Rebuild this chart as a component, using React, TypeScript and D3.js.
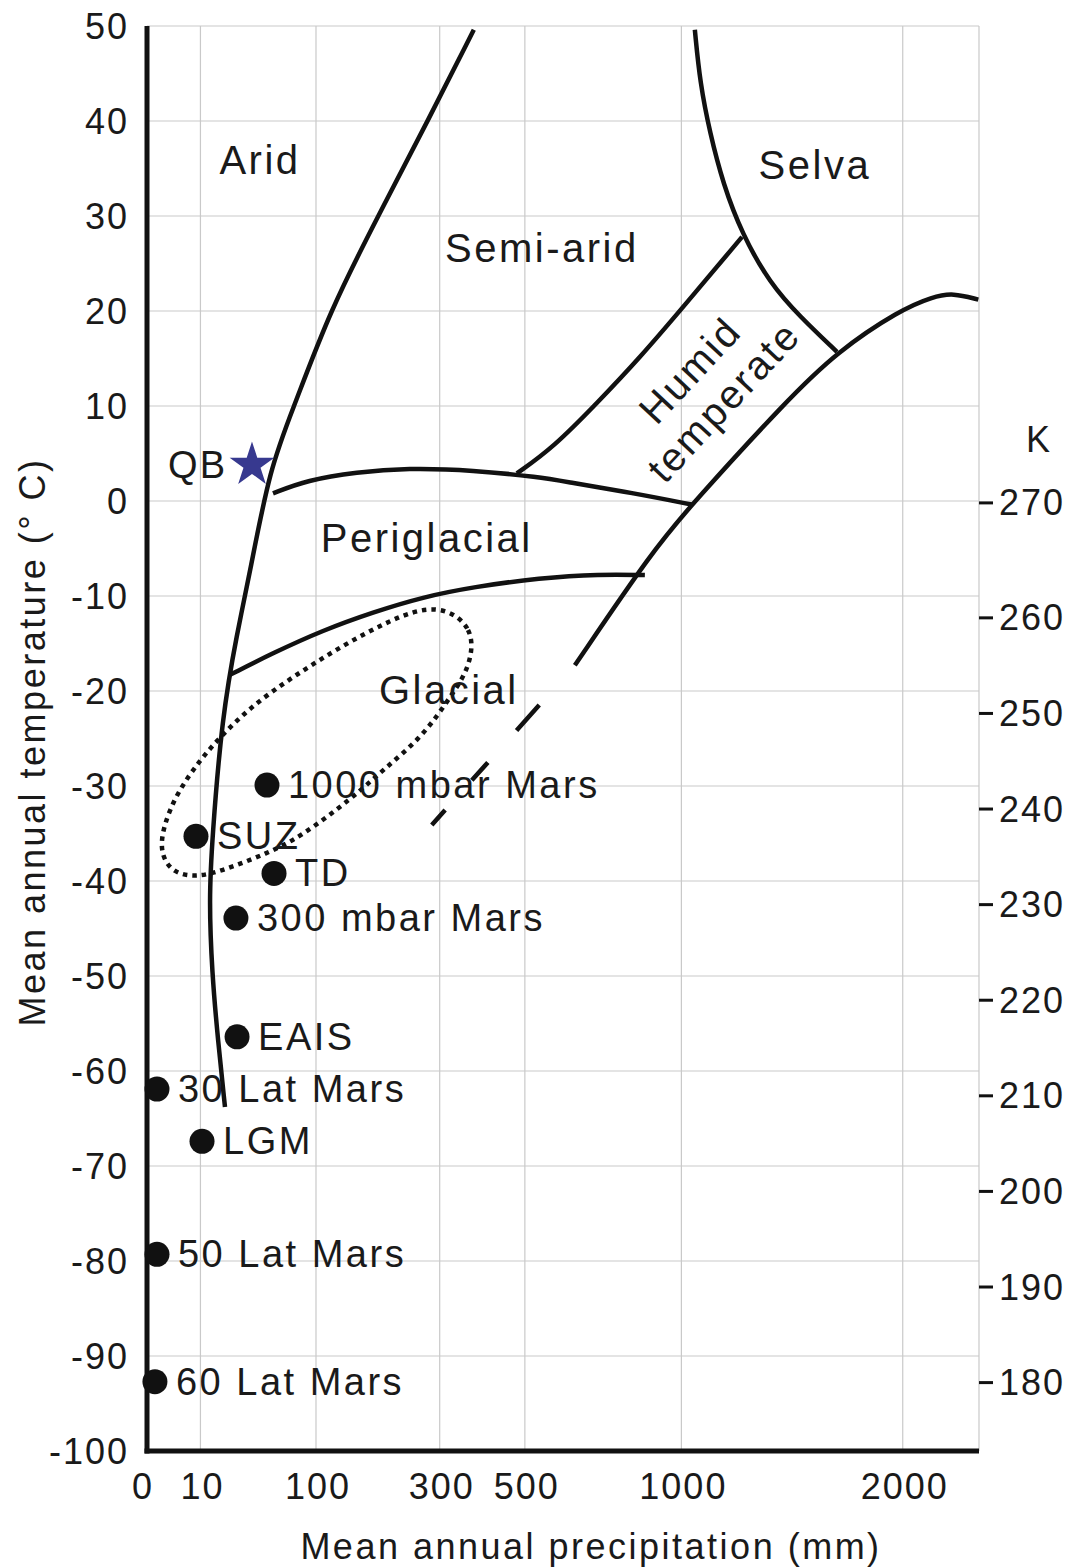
import React, { useEffect, useRef } from "react";
import * as d3 from "d3";

const W = 1081;
const H = 1567;

const tempTicks = [50, 40, 30, 20, 10, 0, -10, -20, -30, -40, -50, -60, -70, -80, -90, -100];
const precipTicks = [0, 10, 100, 300, 500, 1000, 2000];
const kelvinTicks = [270, 260, 250, 240, 230, 220, 210, 200, 190, 180];

// boundaries, [precipitation mm, temperature C]
const aridBoundary = [
  [374, 49.6], [276, 40], [187, 30], [117, 20], [76, 10],
  [53, 3.6], [37, -7.6], [28.4, -13.9], [19.7, -22.7], [14.8, -35.7],
  [13.5, -42], [14.8, -49.7], [17.6, -56.7], [21.3, -63.8],
];
const selvaBoundary = [
  [1051, 49.6], [1071, 44], [1110, 38.7], [1162, 33.4], [1240, 28.1],
  [1359, 22.9], [1493, 19.4], [1667, 15.7],
];
const humidBoundary = [
  [1240, 27.8], [1006, 20.4], [851, 15.1], [709, 10.3], [577, 5.6], [479, 2.9],
];
const periglacialTop = [
  [55.6, 0.8], [89.6, 2.2], [154, 3.05], [237, 3.47], [372, 3.26], [541, 2.5],
  [618, 2.0], [827, 0.84], [1044, -0.4],
];
const glacialTop = [
  [24.1, -18.3], [55.6, -16.0], [108.5, -13.6], [179, -11.7], [267, -10.1],
  [372, -9.05], [541, -8.1], [718, -7.7], [868, -7.8],
];
const wetBoundary = [
  [641, -17.3], [896, -5.2], [1044, -0.2], [1434, 10.6], [1667, 15.7],
  [1985, 20.1], [2163, 21.5], [2274, 21.9], [2420, 21.2],
];
const wetBoundaryDashed = [[284, -34.1], [641, -17.3]];
const glacialEnvelope = [
  [296, -10.7], [377, -13.3], [365, -17.5], [328, -20.2], [267, -24.8],
  [195, -28.3], [149, -31.2], [82, -35.4], [50.4, -37.1], [20.2, -38.9],
  [8.75, -39.6], [2.37, -39.2], [0.59, -37.1], [0.9, -34.3], [3.15, -30.7],
  [9.8, -27.3], [17.2, -25.2], [37.1, -21.7], [74.6, -18.5], [130, -15.4],
  [207, -12.5],
];

const siteNames = ["1000 mbar Mars", "SUZ", "TD", "300 mbar Mars", "EAIS", "30 Lat Mars", "LGM", "50 Lat Mars", "60 Lat Mars"];
const sitePrecip = [50.4, 8.4, 56.5, 27.7, 28.4, 0.35, 10.6, 0.35, 0.22];
const siteTemp = [-29.9, -35.3, -39.2, -43.9, -56.4, -61.9, -67.4, -79.3, -92.7];

const qbSite = { name: "QB", precip: 38.6, temp: 3.8 };

const zoneNames = ["Arid", "Semi-arid", "Selva", "Periglacial", "Glacial"];
const zonePrecip = [44.7, 546, 1562, 274, 319];
const zoneTemp = [35.9, 26.6, 35.4, -3.9, -19.9];

const FONT = "'Liberation Sans', Arial, sans-serif";

const App = () => {
  const ref = useRef<SVGSVGElement>(null);

  useEffect(() => {
    const svg = d3.select(ref.current);
    svg.selectAll("*").remove();

    const x = d3.scaleSqrt().domain([0, 2424]).range([147, 979]);
    const y = d3.scaleLinear().domain([-100, 50]).range([1451, 26]);
    // the kelvin axis of the original is not exactly C + 273.15
    const k = d3.scaleLinear().domain([180, 260, 270]).range([y(-92.8), y(-12.3), y(-0.2)]);

    svg.append("rect").attr("width", W).attr("height", H).attr("fill", "#fff");

    // grid
    const grid = svg.append("g").attr("stroke", "#c9c9c9").attr("stroke-width", 1.2);
    grid.selectAll(".h").data(tempTicks.filter((t) => t > -100)).enter()
      .append("line")
      .attr("x1", x(0)).attr("x2", x.range()[1])
      .attr("y1", (d) => y(d)).attr("y2", (d) => y(d));
    grid.selectAll(".v").data(precipTicks.filter((p) => p > 0)).enter()
      .append("line")
      .attr("x1", (d) => x(d)).attr("x2", (d) => x(d))
      .attr("y1", y(50)).attr("y2", y(-100));
    grid.append("line")
      .attr("x1", x.range()[1]).attr("x2", x.range()[1])
      .attr("y1", y(50)).attr("y2", y(-100));

    // axes
    svg.append("line").attr("x1", x(0)).attr("x2", x(0)).attr("y1", y(50)).attr("y2", y(-100) + 2.5)
      .attr("stroke", "#111").attr("stroke-width", 5);
    svg.append("line").attr("x1", x(0) - 2.5).attr("x2", x.range()[1]).attr("y1", y(-100)).attr("y2", y(-100))
      .attr("stroke", "#111").attr("stroke-width", 5);

    const txt = (g: any, size: number, spacing: number) =>
      g.attr("font-family", FONT).attr("font-size", size).attr("letter-spacing", spacing).attr("fill", "#1a1a1a");

    txt(svg.append("g"), 36, 2)
      .selectAll("text").data(tempTicks).enter().append("text")
      .attr("x", x(0) - 18).attr("y", (d: number) => y(d))
      .attr("text-anchor", "end").attr("dominant-baseline", "central")
      .text((d: number) => d);

    txt(svg.append("g"), 36, 2)
      .selectAll("text").data(precipTicks).enter().append("text")
      .attr("x", (d: number) => x(d) + (d === 0 ? -4 : 2)).attr("y", y(-100) + 35)
      .attr("text-anchor", "middle").attr("dominant-baseline", "central")
      .text((d: number) => d);

    // kelvin axis
    const kg = svg.append("g");
    kg.selectAll("line").data(kelvinTicks).enter().append("line")
      .attr("x1", x.range()[1]).attr("x2", x.range()[1] + 14)
      .attr("y1", (d) => k(d)).attr("y2", (d) => k(d))
      .attr("stroke", "#111").attr("stroke-width", 3);
    txt(kg.append("g"), 36, 2)
      .selectAll("text").data(kelvinTicks).enter().append("text")
      .attr("x", x.range()[1] + 20).attr("y", (d: number) => k(d))
      .attr("dominant-baseline", "central")
      .text((d: number) => d);
    txt(kg.append("text"), 36, 0)
      .attr("x", 1038).attr("y", y(6.5)).attr("text-anchor", "middle")
      .attr("dominant-baseline", "central").text("K");

    // axis titles
    txt(svg.append("text"), 36, 2.5)
      .attr("x", 591).attr("y", 1546).attr("text-anchor", "middle")
      .attr("dominant-baseline", "central").text("Mean annual precipitation (mm)");
    txt(svg.append("text"), 36, 2.5)
      .attr("transform", `translate(32,${742}) rotate(-90)`)
      .attr("text-anchor", "middle").attr("dominant-baseline", "central")
      .text("Mean annual temperature (° C)");

    // boundaries
    const line = d3.line<number[]>().x((d) => x(d[0])).y((d) => y(d[1])).curve(d3.curveBasis);
    const curves = [aridBoundary, selvaBoundary, humidBoundary, periglacialTop, glacialTop, wetBoundary];
    svg.append("g").selectAll("path").data(curves).enter().append("path")
      .attr("d", (d) => line(d))
      .attr("fill", "none").attr("stroke", "#111").attr("stroke-width", 4.5)
      .attr("stroke-linecap", "butt");
    svg.append("path")
      .attr("d", d3.line<number[]>().x((d) => x(d[0])).y((d) => y(d[1]))(wetBoundaryDashed))
      .attr("fill", "none").attr("stroke", "#111").attr("stroke-width", 4.5)
      .attr("stroke-dasharray", "20,40,24,43,34,60");

    svg.append("path")
      .attr("d", d3.line<number[]>().x((d) => x(d[0])).y((d) => y(d[1])).curve(d3.curveBasisClosed)(glacialEnvelope))
      .attr("fill", "none").attr("stroke", "#111").attr("stroke-width", 4.5)
      .attr("stroke-dasharray", "4.5,5");

    // zone labels
    txt(svg.append("g"), 40, 2.5)
      .selectAll("text").data(zoneNames).enter().append("text")
      .attr("x", (d: string, i: number) => x(zonePrecip[i]))
      .attr("y", (d: string, i: number) => y(zoneTemp[i]))
      .attr("text-anchor", "middle").attr("dominant-baseline", "central")
      .text((d: string) => d);
    const ht = txt(svg.append("text"), 40, 2.5)
      .attr("transform", `translate(${x(1094)},${y(12.2)}) rotate(-47)`)
      .attr("text-anchor", "middle");
    ht.append("tspan").attr("x", 0).attr("y", -8).text("Humid");
    ht.append("tspan").attr("x", 0).attr("y", 38).text("temperate");

    // sites
    const sites = siteNames.map((name, i) => ({ name, p: sitePrecip[i], t: siteTemp[i] }));
    const sg = svg.append("g");
    sg.selectAll("circle").data(sites).enter().append("circle")
      .attr("cx", (d) => x(d.p)).attr("cy", (d) => y(d.t)).attr("r", 12.5)
      .attr("fill", "#111");
    txt(sg.append("g"), 38, 2.5)
      .selectAll("text").data(sites).enter().append("text")
      .attr("x", (d: any) => x(d.p) + 21).attr("y", (d: any) => y(d.t))
      .attr("dominant-baseline", "central")
      .text((d: any) => d.name);

    svg.append("path")
      .attr("d", d3.symbol(d3.symbolStar, 620)())
      .attr("transform", `translate(${x(qbSite.precip)},${y(qbSite.temp)})`)
      .attr("fill", "#37398f");
    txt(svg.append("text"), 38, 2)
      .attr("x", x(qbSite.precip) - 25).attr("y", y(qbSite.temp))
      .attr("text-anchor", "end").attr("dominant-baseline", "central")
      .text(qbSite.name);
  }, []);

  return (
    <svg ref={ref} width={W} height={H} style={{ position: "absolute", left: 0, top: 0 }}></svg>
  );
};

export default App;
